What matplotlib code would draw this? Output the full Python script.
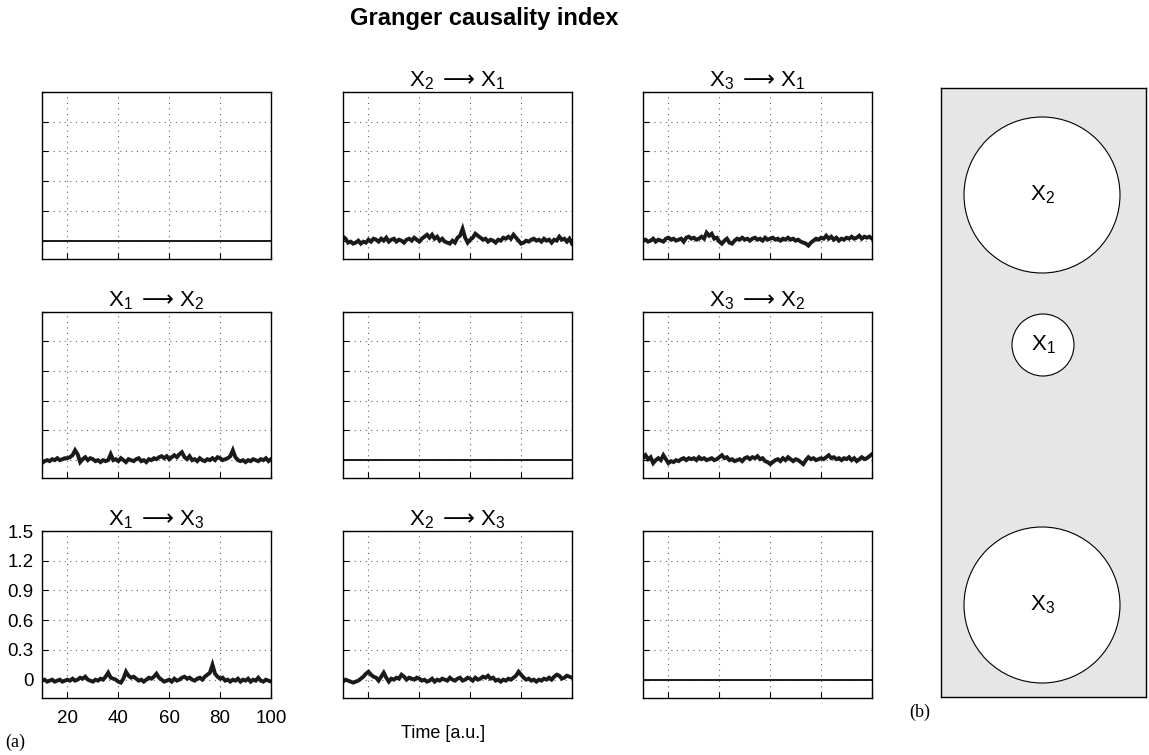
import numpy as np
import matplotlib
matplotlib.use("Agg")
import matplotlib.pyplot as plt
from matplotlib.patches import Circle

plt.rcParams['font.family'] = ['Liberation Sans', 'DejaVu Sans']
plt.rcParams['mathtext.fontset'] = 'custom'
plt.rcParams['mathtext.rm'] = 'Liberation Sans'
plt.rcParams['mathtext.it'] = 'Liberation Sans'
plt.rcParams['mathtext.sf'] = 'DejaVu Sans'

# ---------------- data ----------------
x_ticks = [20, 40, 60, 80, 100]
y_ticks = [0, 0.3, 0.6, 0.9, 1.2, 1.5]
y_ticklabels = ['0', '0.3', '0.6', '0.9', '1.2', '1.5']
t_start, t_end = 10, 100

A = r'\;\mathsf{\longrightarrow}\,'
titles = [
    ['', r'$\mathrm{X}_2' + A + r'\mathrm{X}_1$', r'$\mathrm{X}_3' + A + r'\mathrm{X}_1$'],
    [r'$\mathrm{X}_1' + A + r'\mathrm{X}_2$', '', r'$\mathrm{X}_3' + A + r'\mathrm{X}_2$'],
    [r'$\mathrm{X}_1' + A + r'\mathrm{X}_3$', r'$\mathrm{X}_2' + A + r'\mathrm{X}_3$', ''],
]

# diagonal (self) panels: constant zero index
self_value = [0.0, 0.0]

g21 = [0.04, 0.02, -0.02, -0.01, -0.03, -0.02, 0.00, -0.03, -0.01, -0.02,
       0.01, -0.01, 0.02, 0.01, -0.01, 0.02, 0.00, 0.03, -0.01, 0.01,
       0.02, -0.01, 0.01, 0.00, -0.02, 0.01, 0.02, 0.00, 0.03, 0.01,
       -0.01, 0.02, 0.04, 0.06, 0.03, 0.06, 0.02, 0.04, 0.00, 0.02,
       -0.01, -0.02, -0.03, 0.00, -0.02, 0.03, 0.05, 0.12, 0.03, -0.02,
       0.01, 0.03, 0.07, 0.05, 0.03, 0.01, 0.02, -0.01, 0.01, 0.00,
       -0.02, 0.01, 0.00, 0.03, 0.02, 0.04, 0.02, 0.06, 0.03, 0.00,
       -0.03, -0.02, 0.00, -0.01, 0.01, 0.02, 0.00, 0.01, -0.01, 0.02,
       0.00, 0.01, -0.02, 0.01, 0.00, 0.04, 0.01, 0.02, -0.01, 0.02, -0.03]

g31 = [0.00, 0.01, -0.01, 0.00, 0.02, -0.01, 0.01, 0.00, -0.01, 0.02,
       0.03, 0.01, 0.02, 0.00, 0.01, 0.02, -0.01, 0.03, 0.04, 0.02,
       0.03, 0.01, 0.02, 0.04, 0.02, 0.08, 0.05, 0.07, 0.02, 0.03,
       -0.01, -0.03, 0.00, 0.02, -0.02, -0.03, 0.00, 0.02, 0.01, 0.03,
       0.01, 0.02, 0.00, 0.02, 0.03, 0.01, 0.02, 0.00, 0.03, 0.01,
       0.02, 0.03, 0.01, 0.02, 0.00, 0.02, 0.01, 0.03, 0.01, 0.02,
       0.00, 0.01, -0.01, -0.02, -0.03, -0.05, -0.02, 0.00, 0.02, 0.01,
       0.03, 0.02, 0.05, 0.02, 0.04, 0.01, 0.03, 0.00, 0.02, 0.01,
       0.03, 0.02, 0.04, 0.02, 0.03, 0.05, 0.02, 0.04, 0.03, 0.04, 0.02]

g12 = [-0.03, -0.01, 0.00, -0.01, 0.01, 0.00, 0.02, 0.00, 0.01, 0.02,
       0.02, 0.03, 0.05, 0.10, 0.06, -0.02, 0.01, 0.03, 0.00, 0.02,
       0.01, -0.01, 0.00, -0.02, 0.00, -0.01, 0.00, 0.06, 0.00, 0.01,
       -0.01, 0.02, 0.00, -0.02, 0.01, 0.00, -0.01, 0.01, 0.02, -0.01,
       0.00, -0.02, 0.01, 0.00, 0.02, 0.01, 0.03, 0.04, 0.02, 0.04,
       0.01, 0.03, 0.05, 0.03, 0.06, 0.08, 0.03, 0.01, 0.04, 0.00,
       0.01, -0.01, 0.02, 0.00, -0.01, 0.01, 0.00, 0.02, 0.00, 0.03,
       0.02, 0.00, 0.01, 0.02, 0.04, 0.10, 0.03, 0.00, -0.01, 0.00,
       -0.02, 0.00, -0.01, 0.01, 0.00, -0.01, 0.01, 0.00, 0.02, -0.01, 0.01]

g32 = [0.02, 0.05, 0.01, 0.03, -0.03, 0.00, 0.02, 0.00, 0.05, 0.01,
       -0.03, -0.01, -0.02, 0.00, -0.01, 0.01, 0.02, 0.00, 0.02, 0.01,
       0.02, 0.00, 0.03, 0.01, 0.02, 0.00, 0.01, 0.02, 0.00, 0.01,
       0.03, 0.05, 0.02, 0.03, 0.00, 0.01, -0.01, 0.00, 0.01, -0.01,
       0.02, 0.03, 0.01, 0.03, 0.02, 0.04, 0.01, 0.02, -0.01, -0.02,
       -0.04, -0.02, 0.00, 0.01, -0.01, 0.02, 0.00, 0.03, 0.01, -0.01,
       0.01, 0.00, -0.02, -0.04, 0.00, 0.03, 0.01, 0.02, 0.00, 0.01,
       0.02, 0.01, 0.03, 0.05, 0.02, 0.03, 0.01, 0.02, 0.00, 0.02,
       0.01, 0.03, 0.00, 0.02, -0.01, 0.01, 0.03, 0.01, 0.02, 0.04, 0.06]

g13 = [-0.01, 0.00, -0.02, -0.01, 0.00, -0.02, -0.01, 0.00, -0.02, -0.01,
       0.00, -0.01, 0.01, -0.01, 0.00, 0.02, 0.01, 0.03, 0.00, -0.01,
       -0.02, 0.00, -0.01, 0.01, 0.00, 0.03, 0.07, 0.02, 0.01, 0.00,
       -0.02, -0.03, 0.01, 0.08, 0.04, 0.02, 0.03, 0.01, -0.01, 0.00,
       -0.02, 0.00, 0.02, 0.01, 0.03, 0.06, 0.02, 0.00, -0.02, -0.01,
       0.00, -0.02, 0.01, -0.01, 0.00, 0.02, 0.03, 0.01, 0.02, 0.00,
       -0.01, 0.01, 0.02, 0.00, 0.03, 0.05, 0.07, 0.15, 0.06, 0.03,
       0.01, 0.02, -0.01, 0.00, -0.02, 0.00, -0.01, 0.01, -0.02, 0.00,
       -0.01, 0.01, -0.02, 0.00, -0.01, 0.02, -0.01, -0.02, 0.00, -0.01, -0.02]

g23 = [-0.02, 0.00, -0.01, -0.02, -0.03, -0.02, -0.01, 0.01, 0.03, 0.06,
       0.08, 0.05, 0.03, 0.02, -0.01, 0.03, 0.07, 0.02, -0.02, 0.01,
       0.00, 0.02, 0.01, 0.05, 0.03, 0.00, 0.02, 0.01, 0.00, 0.02,
       0.01, -0.01, 0.00, -0.02, -0.01, 0.01, -0.02, 0.00, -0.01, 0.01,
       0.00, -0.01, 0.02, 0.00, -0.01, 0.01, 0.02, -0.01, 0.00, 0.02,
       0.01, -0.01, 0.02, 0.00, 0.01, 0.03, 0.02, 0.04, 0.01, 0.02,
       -0.01, 0.00, -0.02, 0.00, -0.01, 0.01, 0.00, 0.02, 0.04, 0.08,
       0.05, 0.02, 0.00, 0.01, -0.01, 0.00, -0.02, 0.00, -0.01, 0.01,
       0.00, 0.02, 0.00, 0.03, 0.05, 0.04, 0.01, 0.02, 0.04, 0.03, 0.02]

series = [
    [None, g21, g31],
    [g12, None, g32],
    [g13, g23, None],
]

node_labels = [r'$\mathrm{X}_2$', r'$\mathrm{X}_1$', r'$\mathrm{X}_3$']

# ---------------- figure ----------------
W, H = 1149, 755
fig = plt.figure(figsize=(W / 100, H / 100), dpi=100)

col_left = [42, 343, 643]
col_w = 229
row_top = [92, 311.5, 531]
row_h = 166.5


def px_axes(x0, y0, w, h):
    return fig.add_axes([x0 / W, 1 - (y0 + h) / H, w / W, h / H])


for r in range(3):
    for c in range(3):
        ax = px_axes(col_left[c], row_top[r], col_w, row_h)
        data = series[r][c]
        if data is None:
            ax.plot([t_start, t_end], self_value, color='#1a1a1a', lw=1.4)
        else:
            t = np.linspace(t_start, t_end, len(data))
            ax.plot(t, data, color='#1a1a1a', lw=2.8, solid_joinstyle='miter')
        ax.set_xlim(t_start, t_end)
        ax.set_ylim(-0.18, 1.5)
        ax.set_xticks(x_ticks)
        ax.set_yticks(y_ticks)
        ax.grid(True, linestyle=(0, (1, 4)), color='#666666', lw=0.8)
        ax.tick_params(direction='in', length=4, width=0.8, labelsize=13.5,
                       top=False, right=False)
        if r == 2 and c == 0:
            ax.set_yticklabels(y_ticklabels)
            ax.tick_params(axis='x', pad=9)
            ax.tick_params(axis='y', pad=6)
        else:
            ax.set_xticklabels([])
            ax.set_yticklabels([])
        for s in ax.spines.values():
            s.set_linewidth(1.0)
            s.set_color('black')
        if titles[r][c]:
            ax.set_title(titles[r][c], fontsize=16, pad=4)

# right panel: network diagram
axn = px_axes(941, 88, 205, 609)
axn.set_facecolor('#e6e6e6')
axn.set_xlim(0, 205)
axn.set_ylim(609, 0)
axn.set_xticks([])
axn.set_yticks([])
for s in axn.spines.values():
    s.set_linewidth(1.0)
circle_xy = [(101, 107), (102, 257), (101, 517)]
circle_r = [78, 31, 78]
for (cx, cy), rad, lab in zip(circle_xy, circle_r, node_labels):
    axn.add_patch(Circle((cx, cy), rad, facecolor='white', edgecolor='black', lw=0.8))
    axn.text(cx, cy, lab, ha='center', va='center', fontsize=16)

fig.text(484 / W, 1 - 18 / H, 'Granger causality index', ha='center', va='center',
         fontsize=17, fontweight='bold')
fig.text(443 / W, 1 - 733 / H, 'Time [a.u.]', ha='center', va='center', fontsize=13)
fig.text(5 / W, 1 - 742 / H, '(a)', ha='left', va='center', fontsize=13,
         family='Liberation Serif')
fig.text(920 / W, 1 - 712 / H, '(b)', ha='center', va='center', fontsize=13,
         family='Liberation Serif')

fig.savefig('out.png', dpi=100)
